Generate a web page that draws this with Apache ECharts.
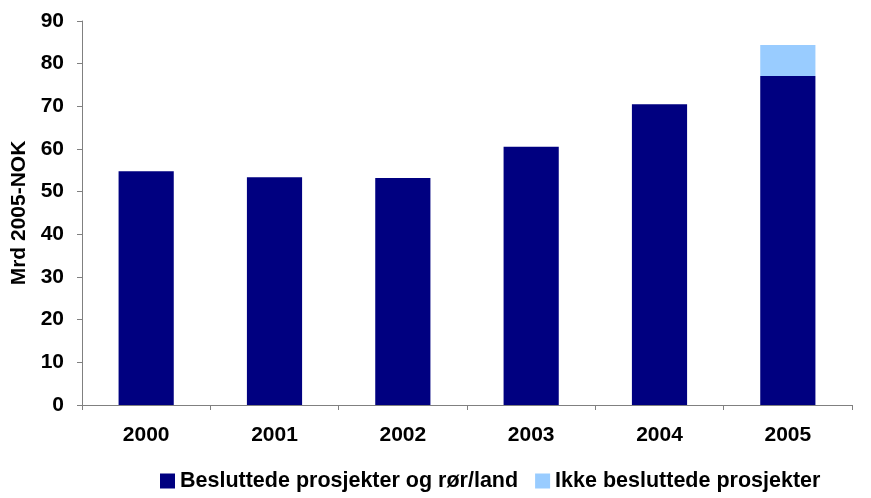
<!DOCTYPE html>
<html>
<head>
<meta charset="utf-8">
<script src="https://cdn.jsdelivr.net/npm/echarts@6/dist/echarts.min.js"></script>
<style>
html,body{margin:0;padding:0;background:#fff;}
#c{width:871px;height:498px;}
</style>
</head>
<body>
<div id="c"></div>
<script>
const categories = ['2000','2001','2002','2003','2004','2005'];
const besluttede = [54.8, 53.4, 53.2, 60.5, 70.5, 77.1];
const ikkeBesluttede = [0, 0, 0, 0, 0, 7.3];
const seriesNames = ['Besluttede prosjekter og rør/land', 'Ikke besluttede prosjekter'];
const yTitle = 'Mrd 2005-NOK';

const font = 'Liberation Sans, Arial, sans-serif';
const chart = echarts.init(document.getElementById('c'));
chart.setOption({
  animation: false,
  grid: {left: 82, right: 19, top: 21, bottom: 93, containLabel: false},
  legend: {
    bottom: 1, left: 155,
    itemWidth: 15, itemHeight: 15, itemGap: 17,
    icon: 'rect',
    textStyle: {fontFamily: font, fontWeight: 'bold', fontSize: 21.5, color: '#000'},
    data: seriesNames
  },
  xAxis: {
    type: 'category', data: categories,
    axisLine: {lineStyle: {color: '#808080', width: 1}},
    axisTick: {show: true, alignWithLabel: false, length: 5, lineStyle: {color: '#808080'}},
    axisLabel: {fontFamily: font, fontWeight: 'bold', fontSize: 21, color: '#000', margin: 20}
  },
  yAxis: {
    type: 'value', min: 0, max: 90, interval: 10,
    name: yTitle, nameLocation: 'middle', nameGap: 40, nameRotate: 90,
    nameTextStyle: {fontFamily: font, fontWeight: 'bold', fontSize: 21, color: '#000'},
    axisLine: {show: true, lineStyle: {color: '#808080', width: 1}},
    axisTick: {show: true, length: 5, lineStyle: {color: '#808080'}},
    splitLine: {show: false},
    axisLabel: {fontFamily: font, fontWeight: 'bold', fontSize: 21, color: '#000', margin: 18}
  },
  series: [
    {name: seriesNames[0], type: 'bar', stack: 's', data: besluttede, barWidth: '43%', itemStyle: {color: '#000080'}},
    {name: seriesNames[1], type: 'bar', stack: 's', data: ikkeBesluttede, barWidth: '43%', itemStyle: {color: '#99CCFF'}}
  ]
});
</script>
</body>
</html>
